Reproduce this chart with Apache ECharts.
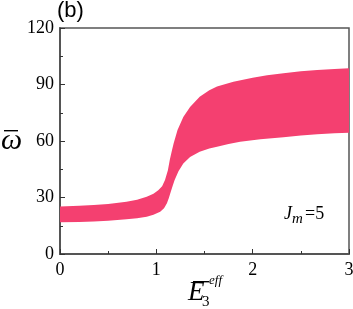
<!DOCTYPE html>
<html>
<head>
<meta charset="utf-8">
<script src="https://cdn.jsdelivr.net/npm/echarts@6/dist/echarts.min.js"></script>
<style>html,body{margin:0;padding:0;background:#fff}#c{width:353px;height:309px}</style>
</head>
<body>
<div id="c"></div>
<script>
// Upper boundary of the band
const upperX = [0, 0.2, 0.35, 0.5, 0.69, 0.8, 0.9, 0.97, 1.02, 1.06, 1.09, 1.12, 1.14, 1.16, 1.18, 1.22, 1.28, 1.35, 1.45, 1.55, 1.63, 1.8, 2.0, 2.15, 2.32, 2.5, 2.67, 2.85, 3.0];
const upperY = [25.2, 25.6, 26.0, 26.6, 27.8, 28.8, 30.4, 32.0, 33.8, 36.0, 39.3, 44.5, 50.0, 54.5, 58.8, 65.8, 72.8, 78.0, 83.5, 87.0, 88.9, 91.5, 93.6, 94.9, 96.0, 97.0, 97.7, 98.2, 98.6];
// Lower boundary of the band
const lowerX = [0, 0.2, 0.35, 0.5, 0.69, 0.8, 0.9, 0.97, 1.04, 1.08, 1.11, 1.13, 1.15, 1.17, 1.19, 1.23, 1.28, 1.35, 1.45, 1.55, 1.63, 1.75, 1.87, 2.08, 2.32, 2.5, 2.67, 2.85, 3.0];
const lowerY = [16.8, 17.0, 17.2, 17.6, 18.4, 19.0, 19.8, 20.8, 22.5, 24.3, 27.0, 29.8, 33.0, 36.3, 39.3, 44.0, 48.0, 51.5, 54.3, 56.0, 57.0, 58.4, 59.6, 60.9, 62.0, 62.9, 63.6, 64.1, 64.4];
const xTicks = [0, 1, 2, 3];
const yTicks = [0, 30, 60, 90, 120];

const chart = echarts.init(document.getElementById('c'), null, {renderer: 'canvas'});
const serif = 'Liberation Serif';
const axisCol = '#555';
chart.setOption({
  animation: false,
  grid: {left: 60, right: 4, top: 28, bottom: 55, outerBoundsMode: 'none', containLabel: false, show: true, borderColor: axisCol, borderWidth: 1.5, backgroundColor: 'transparent'},
  xAxis: {
    type: 'value', min: xTicks[0], max: xTicks[xTicks.length - 1], interval: 1,
    axisLine: {lineStyle: {color: axisCol, width: 2}},
    axisTick: {inside: true, length: 5, lineStyle: {color: '#333', width: 1}},
    minorTick: {show: true, splitNumber: 2, length: 3, lineStyle: {color: '#333', width: 1}},
    splitLine: {show: false},
    axisLabel: {fontFamily: serif, fontSize: 18, color: '#000', margin: 7}
  },
  yAxis: {
    type: 'value', min: yTicks[0], max: yTicks[yTicks.length - 1], interval: 30,
    axisLine: {show: true, lineStyle: {color: axisCol, width: 2}},
    axisTick: {show: true, inside: true, length: 5, lineStyle: {color: '#333', width: 1}},
    minorTick: {show: true, splitNumber: 2, length: 3, lineStyle: {color: '#333', width: 1}},
    splitLine: {show: false},
    axisLabel: {fontFamily: serif, fontSize: 18, color: '#000', margin: 6}
  },
  series: [{
    type: 'custom',
    coordinateSystem: 'cartesian2d',
    clip: true,
    data: [[0, 0]],
    renderItem: function (params, api) {
      const pts = [];
      for (let i = 0; i < upperX.length; i++) pts.push(api.coord([upperX[i], upperY[i]]));
      for (let i = lowerX.length - 1; i >= 0; i--) pts.push(api.coord([lowerX[i], lowerY[i]]));
      return {type: 'polygon', shape: {points: pts, smooth: 0}, style: {fill: '#f44070', stroke: null}};
    }
  }],
  graphic: [
    {type: 'text', left: 57, top: 0, style: {text: '(b)', font: '22px "Liberation Sans"', fill: '#000'}},
    {type: 'text', left: 1, top: 126, style: {text: 'ω', font: 'italic 30px "Liberation Serif"', fill: '#000'}},
    {type: 'rect', z: 100, shape: {x: 4, y: 130, width: 14, height: 1.4}, style: {fill: '#000'}},
    {type: 'text', left: 188, top: 279, style: {text: 'E', font: 'italic 27px "Liberation Serif"', fill: '#000'}},
    {type: 'rect', z: 100, shape: {x: 193, y: 281, width: 16, height: 1.4}, style: {fill: '#000'}},
    {type: 'text', left: 202, top: 295, style: {text: '3', font: '15px "Liberation Serif"', fill: '#000'}},
    {type: 'text', left: 209, top: 274, style: {text: 'eff', font: 'italic 13px "Liberation Serif"', fill: '#000'}},
    {type: 'text', left: 284, top: 205, style: {text: 'J', font: 'italic 18px "Liberation Serif"', fill: '#000'}},
    {type: 'text', left: 292, top: 212, style: {text: 'm', font: 'italic 15px "Liberation Serif"', fill: '#000'}},
    {type: 'text', left: 305, top: 205, style: {text: '=5', font: '18px "Liberation Serif"', fill: '#000'}}
  ]
});
</script>
</body>
</html>
